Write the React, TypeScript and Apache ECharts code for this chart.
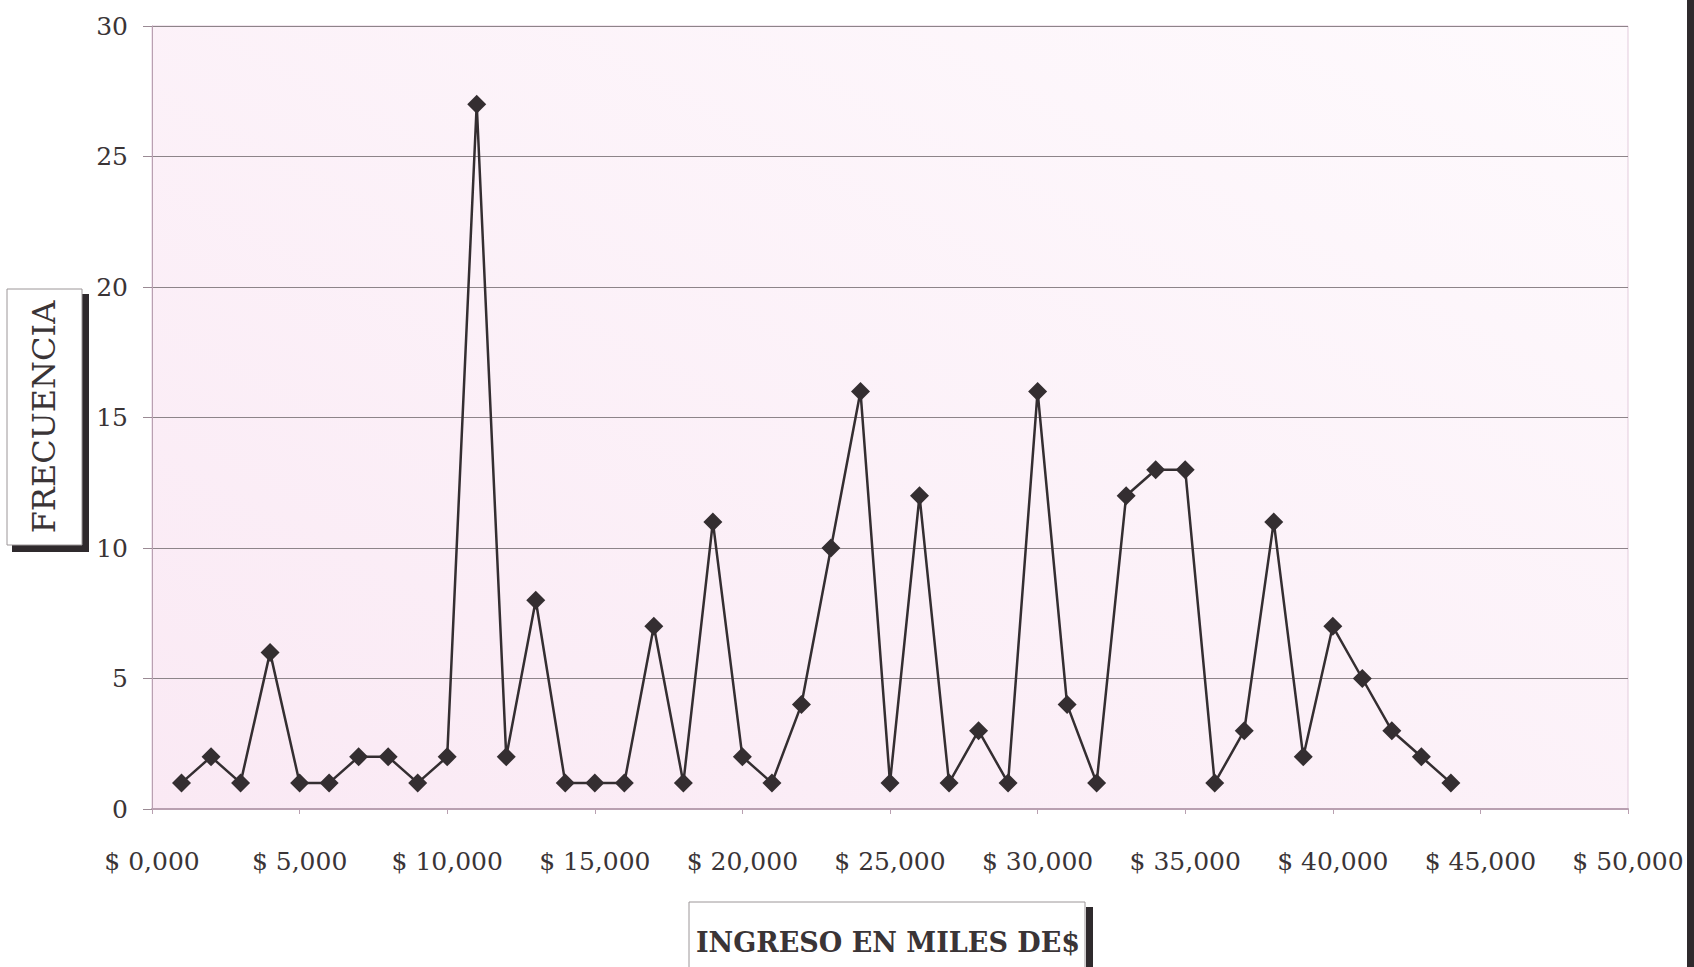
import React, { useEffect, useRef } from "react";
import * as echarts from "echarts";

// Income classes (in $) and how often each one occurs
const incomes = [
  1000, 2000, 3000, 4000, 5000, 6000, 7000, 8000, 9000, 10000,
  11000, 12000, 13000, 14000, 15000, 16000, 17000, 18000, 19000, 20000,
  21000, 22000, 23000, 24000, 25000, 26000, 27000, 28000, 29000, 30000,
  31000, 32000, 33000, 34000, 35000, 36000, 37000, 38000, 39000, 40000,
  41000, 42000, 43000, 44000,
];
const frequencies = [
  1, 2, 1, 6, 1, 1, 2, 2, 1, 2,
  27, 2, 8, 1, 1, 1, 7, 1, 11, 2,
  1, 4, 10, 16, 1, 12, 1, 3, 1, 16,
  4, 1, 12, 13, 13, 1, 3, 11, 2, 7,
  5, 3, 2, 1,
];
const xTickLabels = [
  "$ 0,000", "$ 5,000", "$ 10,000", "$ 15,000", "$ 20,000", "$ 25,000",
  "$ 30,000", "$ 35,000", "$ 40,000", "$ 45,000", "$ 50,000",
];
const yTitle = "FRECUENCIA";
const xTitle = "INGRESO EN MILES DE$";

const SERIF = "'DejaVu Serif', 'Liberation Serif', serif";

export default function App() {
  const ref = useRef<HTMLDivElement>(null);

  useEffect(() => {
    if (!ref.current) return;
    const chart = echarts.init(ref.current, undefined, { renderer: "svg" });

    const points = incomes.map((x, i) => [x, frequencies[i]]);

    chart.setOption({
      animation: false,
      backgroundColor: "#ffffff",
      grid: {
        left: 152,
        right: 66,
        top: 26,
        bottom: 158,
        show: true,
        backgroundColor: new echarts.graphic.LinearGradient(0, 1, 1, 0, [
          { offset: 0, color: "#fae9f4" },
          { offset: 1, color: "#fefafd" },
        ]),
        borderColor: "#e3cbdc",
        borderWidth: 1,
      },
      xAxis: {
        type: "value",
        min: 0,
        max: 50000,
        interval: 5000,
        axisLine: { show: true, lineStyle: { color: "#b9a0b1", width: 2 } },
        axisTick: { show: true, length: 5, lineStyle: { color: "#b9a0b1" } },
        splitLine: { show: false },
        axisLabel: {
          margin: 40,
          color: "#3a3436",
          fontFamily: SERIF,
          fontSize: 25,
          formatter: (v: number) => xTickLabels[Math.round(v / 5000)] ?? "",
        },
      },
      yAxis: {
        type: "value",
        min: 0,
        max: 30,
        interval: 5,
        axisLine: { show: true, lineStyle: { color: "#b9a0b1", width: 1 } },
        axisTick: { show: true, length: 9, lineStyle: { color: "#9a8a94" } },
        splitLine: { show: true, lineStyle: { color: "#8d8489", width: 1 } },
        axisLabel: {
          margin: 24,
          color: "#3a3436",
          fontFamily: SERIF,
          fontSize: 25,
        },
      },
      series: [
        {
          type: "line",
          data: points,
          symbol: "diamond",
          symbolSize: 19,
          itemStyle: { color: "#342e31" },
          lineStyle: { color: "#342e31", width: 2.5 },
          z: 5,
        },
      ],
      graphic: [
        // frame edge on the right
        {
          type: "rect",
          shape: { x: 1687, y: 0, width: 7, height: 967 },
          style: { fill: "#2f2a2d" },
        },
        // y title box with its drop shadow
        {
          type: "rect",
          shape: { x: 82, y: 294, width: 7, height: 258 },
          style: { fill: "#2f2a2d" },
        },
        {
          type: "rect",
          shape: { x: 12, y: 545, width: 77, height: 7 },
          style: { fill: "#2f2a2d" },
        },
        {
          type: "rect",
          shape: { x: 7, y: 289, width: 75, height: 256 },
          style: { fill: "#ffffff", stroke: "#9c9698", lineWidth: 1 },
        },
        {
          type: "text",
          x: 44,
          y: 417,
          rotation: Math.PI / 2,
          style: {
            text: yTitle,
            fontFamily: SERIF,
            fontSize: 32,
            fill: "#3a3436",
            align: "center",
            verticalAlign: "middle",
          },
        },
        // x title box with its drop shadow
        {
          type: "rect",
          shape: { x: 1086, y: 907, width: 7, height: 60 },
          style: { fill: "#2f2a2d" },
        },
        {
          type: "rect",
          shape: { x: 689, y: 902, width: 396, height: 80 },
          style: { fill: "#ffffff", stroke: "#9c9698", lineWidth: 1 },
        },
        {
          type: "text",
          x: 888,
          y: 942,
          style: {
            text: xTitle,
            fontFamily: SERIF,
            fontWeight: "bold",
            fontSize: 27,
            fill: "#3a3436",
            align: "center",
            verticalAlign: "middle",
          },
        },
      ],
    });

    return () => chart.dispose();
  }, []);

  return (
    <div
      ref={ref}
      style={{ position: "absolute", left: 0, top: 0, width: 1694, height: 967 }}
    />
  );
}
